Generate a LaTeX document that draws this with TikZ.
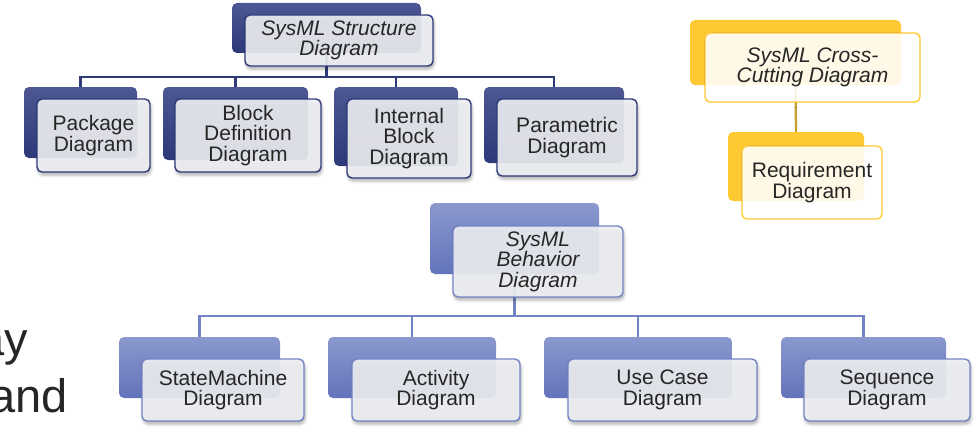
\documentclass[tikz,border=0pt]{standalone}
\usepackage{fontspec}
\setmainfont{Liberation Sans}
\usetikzlibrary{shadows.blur}

\definecolor{navytop}{HTML}{4C5793}
\definecolor{navybot}{HTML}{2D3978}
\definecolor{navyline}{HTML}{2F3A79}
\definecolor{periTop}{HTML}{8A98CD}
\definecolor{periBot}{HTML}{6373BA}
\definecolor{periline}{HTML}{7384C4}
\definecolor{gold}{HTML}{FFC933}
\definecolor{goldline}{HTML}{C9A030}
\definecolor{frontfill}{HTML}{F0F1F5}
\definecolor{ink}{HTML}{262626}

\begin{document}
\begin{tikzpicture}[x=1pt,y=-1pt,
  sz/.style 2 args={minimum width=#1pt, minimum height=#2pt},
  boxbase/.style={rectangle, rounded corners=5pt, inner sep=0pt, outer sep=0pt,
    anchor=north west},
  navyback/.style={boxbase, top color=navytop, bottom color=navybot, draw=none},
  periback/.style={boxbase, top color=periTop, bottom color=periBot, draw=none},
  goldback/.style={boxbase, fill=gold, draw=none},
  frontbox/.style={boxbase, fill=frontfill, fill opacity=0.9, text opacity=1,
    line width=1.4pt, align=center, text=ink,
    font=\fontsize{21}{20.5}\selectfont,
    blur shadow={shadow xshift=1pt, shadow yshift=-3pt, shadow blur radius=3pt,
      shadow opacity=35}},
  navyfront/.style={frontbox, draw=navyline},
  perifront/.style={frontbox, draw=periline},
  goldfront/.style={frontbox, fill=white, fill opacity=0.88, draw=gold,
    blur shadow={shadow opacity=0}},
  titlefont/.style={font=\fontsize{21}{20.5}\selectfont\itshape},
  navyconn/.style={draw=navyline, line width=2.3pt},
  periconn/.style={draw=periline, line width=2.3pt},
  goldconn/.style={draw=goldline, line width=2.3pt},
  sidetext/.style={anchor=base east, text=ink, inner sep=0pt,
    font=\fontsize{47}{56}\selectfont}
]
\useasboundingbox (0,0) rectangle (976,428);

% ---------- back plates ----------
\node[navyback, sz={189}{50}] (sB) at (232,3) {};
\node[navyback, sz={113}{71}] (pkgB) at (24,87) {};
\node[navyback, sz={145}{73}] (bddB) at (163,87) {};
\node[navyback, sz={124}{79}] (ibdB) at (334,87) {};
\node[navyback, sz={140}{76}] (parB) at (484,87) {};

\node[periback, sz={169}{71}] (bB) at (430,203) {};
\node[periback, sz={161}{61}] (smB) at (119,337) {};
\node[periback, sz={168}{61}] (actB) at (328,337) {};
\node[periback, sz={188}{61}] (ucB) at (544,337) {};
\node[periback, sz={165}{61}] (seqB) at (781,337) {};

\node[goldback, sz={211}{65}] (cB) at (690,20) {};
\node[goldback, sz={136}{69}] (reqB) at (728,132) {};

% ---------- connectors ----------
\foreach \c in {pkgB, bddB, ibdB, parB}
  \draw[navyconn] (sB.south) -- ++(0,24) -| (\c.north);
\foreach \c in {smB, actB, ucB, seqB}
  \draw[periconn] (bB.south) -- ++(0,42) -| (\c.north);
\draw[goldconn] (cB.south) -- (reqB.north);

% ---------- front cards ----------
\node[navyfront, sz={188}{51}, titlefont] (sF) at (245,15) {SysML Structure\\Diagram};
\node[navyfront, sz={113}{73}] (pkgF) at (37,99) {Package\\Diagram};
\node[navyfront, sz={146}{73}] (bddF) at (175,99) {Block\\Definition\\Diagram};
\node[navyfront, sz={124}{79}] (ibdF) at (347,99) {Internal\\Block\\Diagram};
\node[navyfront, sz={140}{77}] (parF) at (497,99) {Parametric\\Diagram};

\node[perifront, sz={170}{71}, titlefont] (bF) at (453,226) {SysML\\Behavior\\Diagram};
\node[perifront, sz={162}{62}] (smF) at (142,359) {StateMachine\\Diagram};
\node[perifront, sz={168}{62}] (actF) at (352,359) {Activity\\Diagram};
\node[perifront, sz={189}{62}] (ucF) at (568,359) {Use Case\\Diagram};
\node[perifront, sz={166}{62}] (seqF) at (804,359) {Sequence\\Diagram};

\node[goldfront, sz={215}{69}, titlefont] (cF) at (705,33) {SysML Cross-\\Cutting Diagram};
\node[goldfront, sz={140}{73}] (reqF) at (742,146) {Requirement\\Diagram};

% ---------- clipped body text at the left edge ----------
\node[sidetext] (ay) at (28,355) {ay};
\node[sidetext] (and) at (68,412) {and};
\end{tikzpicture}
\end{document}
